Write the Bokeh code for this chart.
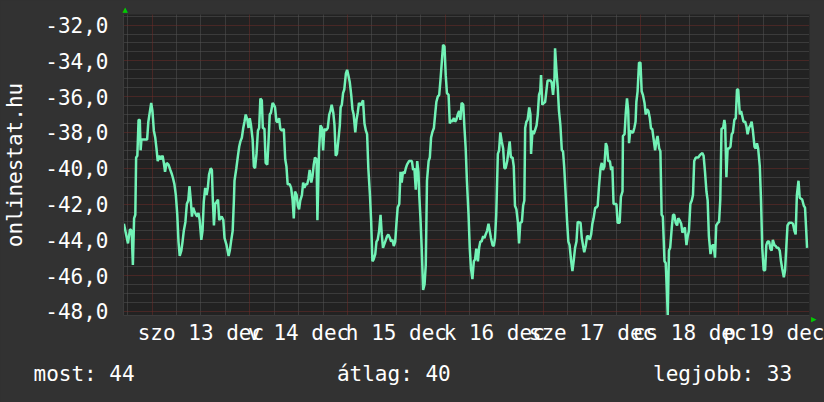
from bokeh.plotting import figure
from bokeh.models import Range1d, FixedTicker, Grid, Title
from bokeh.embed import file_html
from bokeh.resources import INLINE

# hours since 13 Dec 00:00
hours = [
    -6.9, -5.9, -5.4, -5.0, -4.7, -4.4, -4.1, -3.9, -3.6, -3.3, -3.0, -2.8, -2.6, -1.2, -0.9, -0.2, 0.1, 0.45, 0.8, 1.1,
    1.4, 1.8, 2.1, 2.6, 2.9, 3.2, 3.6, 4.05, 4.5, 4.9, 5.2, 5.5, 5.85, 6.2, 6.5, 6.8, 7.2, 7.5, 7.8, 8.2,
    8.55, 8.9, 9.2, 9.5, 9.8, 10.1, 10.4, 10.8, 11.1, 11.4, 11.7, 12.1, 12.4, 12.7, 13.05, 13.4, 13.7, 14.0, 14.4, 14.7,
    14.9, 15.2, 15.5, 15.8, 16.2, 16.5,
    17.1, 17.5, 17.8, 18.3, 18.8, 19.1, 19.4, 19.8, 20.1, 20.25, 20.7, 21.1, 21.4, 21.7, 22.05, 22.4, 22.7, 23.0, 23.4, 23.7,
    24.0, 24.3, 24.7, 25.0, 25.3, 25.65, 26.0, 26.3, 26.6, 26.95, 27.2, 27.6, 27.9, 28.3, 28.6, 28.9, 29.2, 29.6, 29.9, 30.2,
    30.55, 30.9, 31.2, 31.5, 31.9, 32.35, 32.7, 33.0, 33.3, 33.8, 34.15, 34.5, 34.8, 35.1, 35.5, 35.8, 36.1, 36.4, 36.8, 37.1,
    37.4, 37.75, 38.1, 38.4, 38.7, 39.1, 39.4, 39.7, 40.0, 40.4,
    40.6, 41.0, 41.35, 41.7, 42.0, 42.3, 42.7, 43.15, 43.5, 43.8, 44.1, 44.5, 44.8, 45.1, 45.4, 45.8, 46.1, 46.3, 46.6, 46.9,
    47.2, 47.6, 47.9, 48.2, 48.55, 48.9, 49.2, 49.5, 49.9, 50.2, 50.5, 50.8, 51.2, 51.5, 51.8, 52.15, 52.5, 52.8, 53.1, 53.5,
    53.8, 54.1, 54.4, 54.8, 55.1, 55.4, 55.75, 56.1, 56.4, 56.7, 57.1, 57.4, 57.7, 58.0, 58.4, 58.7, 59.0, 59.35, 59.7, 60.0,
    60.3, 60.7, 61.0, 61.3, 61.6, 62.0, 62.3, 62.6, 63.1, 63.8, 64.1, 64.4, 64.75,
    65.1, 65.4, 65.6, 65.9, 66.2, 66.55, 66.9, 67.2, 67.5, 67.9, 68.2, 68.5, 68.8, 69.2, 69.5, 69.8, 70.15, 70.5, 70.8, 71.1,
    71.45, 71.8, 72.1, 72.4, 72.8, 73.1, 73.4, 73.7, 74.1, 74.4, 74.7, 75.05, 75.4, 75.7, 76.0, 76.4, 76.7, 77.0, 77.3, 77.7,
    78.0, 78.3, 78.65, 79.0, 79.3, 79.6, 80.0, 80.3, 80.6, 80.9, 81.3, 81.6, 81.9, 82.25, 82.6, 82.9, 83.2, 83.6, 83.9, 84.2,
    84.5, 84.9, 85.2, 85.5, 85.85, 86.2, 86.5, 86.8, 87.2, 87.5, 87.8, 88.1, 88.5,
    88.8, 89.1, 89.45, 89.8, 90.1, 90.4, 90.8, 91.1, 91.4, 91.6, 91.9, 92.2, 92.6, 92.9, 93.05, 93.4, 93.7, 94.0, 94.4, 94.7,
    95.0, 95.3, 95.5, 95.8, 96.2, 96.5, 96.8, 97.1, 97.8, 98.1, 98.45, 98.8, 98.94, 99.3, 99.6, 99.9, 100.25, 100.6, 100.9, 101.2,
    101.6, 101.9, 102.2, 102.5, 102.9, 103.2, 103.5, 103.85, 104.2, 104.5, 105.2, 105.5, 105.8, 106.1, 106.5, 106.8, 107.1, 107.45, 107.8, 108.1,
    108.4, 108.8, 109.1, 109.4, 109.7, 110.1, 110.4, 110.7, 111.05, 111.4, 111.7, 112.0, 112.4, 112.7, 113.0, 113.3,
    114.0, 114.3, 114.8, 115.1, 115.5, 115.6, 116.0, 116.3, 116.6, 116.9, 117.1, 117.4, 117.8, 118.1, 118.4, 118.7, 118.9, 119.2, 119.55, 119.9,
    120.2, 120.5, 120.9, 121.2, 121.5, 121.85, 122.2, 122.5, 122.8, 123.15, 123.5, 123.8, 124.1, 124.5, 124.8, 125.1, 125.4, 125.8, 126.1, 126.4,
    126.6, 126.9, 127.2, 127.6, 127.9, 128.2, 128.55, 128.9, 129.2, 129.5, 129.9, 130.2, 130.5, 130.8, 131.2, 131.5, 131.8, 132.15, 132.5, 132.8,
    133.1, 133.5, 134.1, 134.4, 134.8, 135.1, 135.4, 135.75, 136.1, 136.4, 136.7, 137.1,
    137.55, 137.9, 138.2, 138.5, 138.9, 139.2, 139.5, 139.8, 140.2, 140.5, 140.7, 141.0, 141.3, 141.6, 142.0, 142.3, 142.6, 142.95, 143.3, 143.6,
    143.9, 144.3, 144.6, 144.9, 145.2, 145.6, 145.9, 146.2, 146.55, 146.9, 147.2, 147.5, 147.9, 148.2, 148.5, 148.8, 149.2, 149.5, 149.8, 150.15,
    150.5, 150.8, 151.1, 151.5, 151.8, 152.1, 152.4, 152.8, 153.1, 153.4, 153.75, 154.1, 154.4, 154.7, 155.1, 155.4, 155.7, 156.0, 156.4, 157.0,
    157.35, 157.7, 158.0, 158.3, 158.7, 159.0, 159.6, 160.0, 160.3, 160.6, 160.8,
]

temps = [
    -43.1, -44.2, -43.4, -43.5, -45.4, -42.8, -42.6, -39.4, -39.3, -37.3, -37.3, -39.0, -38.4, -38.4, -37.4, -36.35, -36.8, -37.9, -38.3, -38.9,
    -39.6, -39.3, -39.5, -39.3, -39.7, -40.2, -39.7, -39.8, -40.1, -40.35, -40.6, -40.9, -41.5, -42.6, -44.1, -44.9, -44.6, -44.1, -43.5, -43.0,
    -42.0, -41.8, -41.0, -41.75, -42.7, -42.2, -42.4, -42.6, -42.7, -42.5, -42.9, -44.0, -43.5, -41.9, -41.1, -41.5, -41.1, -40.35, -40.0, -40.1,
    -41.6, -43.2, -42.0, -41.9, -41.75, -42.9,
    -42.7, -42.9, -43.9, -44.3, -44.9, -44.6, -44.1, -43.5, -41.8, -40.7, -40.0, -39.3, -38.8, -38.5, -38.3, -37.75, -37.4, -37.0, -37.3, -37.75,
    -37.2, -37.6, -38.4, -39.9, -40.0, -39.2, -37.9, -37.75, -36.1, -36.2, -37.75, -37.8, -39.7, -39.8, -38.5, -37.0, -36.9, -36.35, -36.45, -36.6,
    -37.4, -37.4, -37.2, -37.8, -37.9, -37.8, -39.5, -39.9, -40.9, -40.9, -41.1, -41.75, -42.8, -41.3, -41.5, -42.1, -42.3, -41.8, -41.5, -40.8,
    -41.1, -40.9, -40.9, -40.6, -40.1, -40.8, -40.45, -39.8, -39.4, -39.5,
    -42.9, -39.0, -37.6, -37.75, -39.0, -37.8, -37.9, -37.75, -37.0, -36.8, -36.45, -36.9, -37.6, -39.3, -39.2, -38.3, -37.6, -36.6, -36.45, -35.8,
    -35.6, -34.7, -34.5, -34.8, -35.2, -35.9, -36.7, -37.0, -38.0, -37.3, -36.9, -36.35, -36.5, -36.35, -36.2, -37.5, -37.9, -38.1, -40.0, -41.5,
    -43.0, -45.2, -45.1, -44.8, -44.1, -44.0, -43.5, -42.6, -43.7, -44.45, -44.2, -44.0, -43.8, -43.7, -43.9, -44.1, -44.0, -44.35, -44.1, -43.1,
    -42.2, -42.0, -40.2, -40.8, -40.2, -40.3, -40.0, -39.8, -39.6, -39.6, -40.1, -40.0, -41.2,
    -39.6, -40.2, -41.5, -42.8, -44.45, -46.8, -46.5, -45.4, -40.7, -39.6, -39.4, -38.3, -38.0, -37.75, -37.0, -36.3, -36.0, -35.9, -35.1, -34.2,
    -33.1, -33.2, -34.8, -35.8, -35.9, -37.5, -37.3, -37.4, -37.2, -37.4, -37.3, -37.0, -36.8, -37.3, -36.35, -36.45, -37.75, -38.9, -40.7, -42.6,
    -44.45, -45.6, -46.2, -45.2, -45.1, -44.5, -45.2, -44.45, -44.1, -44.1, -43.8, -43.9, -43.7, -43.5, -43.1, -43.5, -43.9, -44.3, -44.35, -43.9,
    -42.6, -39.2, -39.0, -38.0, -38.5, -38.9, -40.0, -40.0, -39.6, -39.05, -38.5, -39.4, -39.4,
    -39.9, -42.1, -42.3, -43.0, -44.2, -43.05, -43.0, -42.1, -41.8, -37.75, -37.4, -37.3, -36.6, -37.0, -39.2, -37.9, -38.1, -37.9, -37.6, -37.0,
    -35.9, -35.7, -34.8, -36.45, -36.35, -36.3, -35.7, -35.1, -35.1, -35.2, -35.9, -34.96, -33.3, -34.6, -35.5, -36.8, -37.6, -39.0, -39.05, -40.0,
    -41.7, -43.0, -44.1, -44.3, -45.2, -45.75, -45.2, -44.45, -44.1, -43.0, -43.05, -43.9, -44.3, -44.7, -44.3, -43.8, -43.8, -44.0, -43.7, -43.1,
    -42.8, -42.2, -42.2, -42.1, -41.1, -40.0, -39.7, -40.1, -39.9, -38.6, -38.8, -39.6, -39.6, -40.1, -39.9, -42.0,
    -42.0, -43.05, -43.05, -41.6, -41.3, -38.2, -38.1, -36.9, -36.1, -36.8, -38.6, -37.9, -38.0, -38.0, -37.75, -37.4, -36.3, -35.7, -34.1, -34.1,
    -35.7, -35.9, -36.35, -37.0, -36.7, -36.8, -37.2, -37.8, -37.8, -38.4, -39.0, -38.5, -38.2, -38.9, -39.05, -42.6, -42.7, -45.2, -45.3, -46.9,
    -48.2, -44.6, -44.45, -43.3, -42.6, -42.6, -43.05, -43.2, -42.8, -42.9, -43.1, -43.6, -43.5, -43.3, -44.3, -43.8, -43.5, -42.0, -41.8, -41.5,
    -39.6, -39.4, -39.4, -39.3, -39.2, -39.15, -39.3, -40.2, -41.3, -41.8, -43.8, -44.8,
    -44.3, -44.3, -45.0, -43.2, -43.05, -43.0, -41.75, -37.8, -37.75, -37.3, -37.6, -40.5, -38.9, -38.9, -38.8, -38.1, -38.0, -37.3, -37.2, -35.6,
    -35.6, -37.0, -36.8, -37.1, -37.4, -37.4, -37.65, -38.1, -37.75, -37.6, -37.4, -37.9, -38.8, -38.9, -38.6, -38.9, -39.9, -41.8, -44.45, -45.7,
    -45.7, -44.3, -44.1, -44.1, -44.5, -44.6, -44.0, -44.3, -44.35, -44.45, -44.45, -44.6, -45.2, -45.6, -46.1, -45.7, -44.45, -43.2, -43.05, -43.05,
    -43.1, -43.5, -43.7, -41.5, -40.7, -41.65, -41.75, -42.1, -42.2, -43.5, -44.45,
]

day_ticks = [0, 24, 48, 72, 96, 120, 144]
day_label_pos = [12, 36, 60, 84, 108, 132, 156]
day_labels = ["szo 13 dec", "v 14 dec", "h 15 dec", "k 16 dec", "sze 17 dec", "cs 18 dec", "p 19 dec"]
quarter_ticks = [-6, 6, 12, 18, 30, 36, 42, 54, 60, 66, 78, 84, 90, 102, 108, 114, 126, 132, 138, 150, 156]
y_ticks = [-48, -46, -44, -42, -40, -38, -36, -34, -32]
y_labels = ["-48,0", "-46,0", "-44,0", "-42,0", "-40,0", "-38,0", "-36,0", "-34,0", "-32,0"]
y_minor = [-47.5, -47, -46.5, -45.5, -45, -44.5, -43.5, -43, -42.5, -41.5, -41, -40.5,
           -39.5, -39, -38.5, -37.5, -37, -36.5, -35.5, -35, -34.5, -33.5, -33, -32.5, -31.5]
stats_labels = ["most: 44", "átlag: 40", "legjobb: 33"]

FONT = "DejaVu Sans Mono"
FS = "21px"
X0, X1 = -7, 161.4
Y0, Y1 = -48.23, -31.41

p = figure(width=824, height=402, x_range=Range1d(X0, X1), y_range=Range1d(Y0, Y1),
           output_backend="svg", toolbar_location=None,
           min_border_left=123, min_border_right=15, min_border_top=14, min_border_bottom=87,
           background_fill_color="#222222", border_fill_color="#323232", outline_line_color=None)

p.xgrid.visible = False
p.ygrid.visible = False

for dim, ticks, col in [(0, quarter_ticks, "#555555"), (1, y_minor, "#555555"),
                        (0, day_ticks, "#6e2c28"), (1, y_ticks, "#6e2c28")]:
    g = Grid(dimension=dim, ticker=FixedTicker(ticks=ticks), grid_line_color=col,
             grid_line_dash="1 1", grid_line_width=1)
    p.add_layout(g)

p.line(hours, temps, line_color="#72f2b6", line_width=2.5)

for ax in (p.xaxis[0], p.yaxis[0]):
    ax.major_tick_line_color = None
    ax.minor_tick_line_color = None
    ax.major_tick_out = 0
    ax.major_tick_in = 0
    ax.minor_tick_out = 0
    ax.minor_tick_in = 0
    ax.axis_line_color = "#3c3c3c"
    ax.major_label_text_font = FONT
    ax.major_label_text_font_size = FS
    ax.major_label_text_color = "#ffffff"

xa = p.xaxis[0]
xa.ticker = FixedTicker(ticks=day_label_pos)
xa.major_label_overrides = {pos: lab for pos, lab in zip(day_label_pos, day_labels)}
xa.major_label_standoff = 5

ya = p.yaxis[0]
ya.ticker = FixedTicker(ticks=y_ticks)
ya.major_label_overrides = {t: lab for t, lab in zip(y_ticks, y_labels)}
ya.major_label_standoff = 15
ya.axis_label = "onlinestat.hu"
ya.axis_label_text_font = FONT
ya.axis_label_text_font_size = FS
ya.axis_label_text_font_style = "normal"
ya.axis_label_text_color = "#ffffff"
ya.axis_label_standoff = 15

# summary line below the chart (monospace, spaced with no-break spaces)
NB = "\u00a0"
stats_text = stats_labels[0] + NB * 16 + stats_labels[1] + NB * 16 + stats_labels[2]
p.add_layout(Title(text=stats_text, align="left", offset=-90, standoff=25,
                   text_font=FONT, text_font_size=FS, text_font_style="normal",
                   text_color="#ffffff"), "below")

# small green axis arrows
p.add_layout(Title(text="\u25b2", align="left", offset=-1, standoff=1,
                   text_font="DejaVu Sans", text_font_size="7px", text_font_style="normal",
                   text_color="#00cc00"), "above")
p.add_layout(Title(text="\u25b2", align="right", offset=-7, standoff=1,
                   text_font="DejaVu Sans", text_font_size="7px", text_font_style="normal",
                   text_color="#00cc00"), "right")

html = file_html(p, INLINE)
html = html.replace("<head>", "<head><style>html,body{background:#323232;}</style>", 1)
open("out.html", "w").write(html)
